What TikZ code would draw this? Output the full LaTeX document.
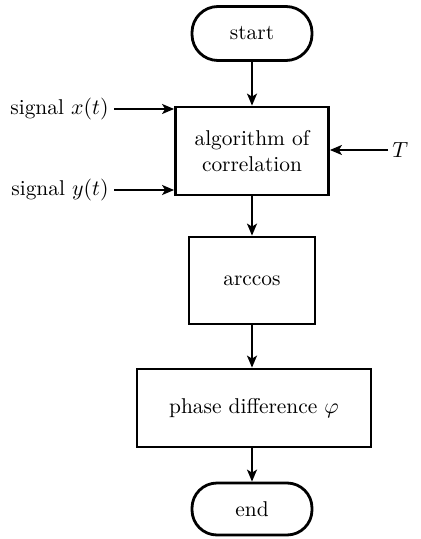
\documentclass[tikz,border=0pt]{standalone}
\usetikzlibrary{arrows.meta}
\tikzset{
	block/.style={draw, line width=1.4pt, align=center, font=\fontsize{10.7}{13}\selectfont},
	term/.style={draw, rounded corners=13pt, line width=1.4pt, minimum width=60pt, minimum height=27pt, font=\fontsize{10.7}{13}\selectfont},
	flow/.style={-{Stealth[length=6pt,width=5pt,inset=1.5pt]}, line width=0.9pt},
	lbl/.style={inner sep=0pt, font=\fontsize{10.7}{13}\selectfont}
}
\begin{document}
\begin{tikzpicture}[x=0.5pt,y=-0.5pt]
	\useasboundingbox (0,0) rectangle (421,539);

	% flow blocks
	\node[term] (start) at (252,33.5) {start};
	\node[block, minimum width=76.5pt, minimum height=44pt] (corr) at (252,151) {algorithm of\\correlation};
	\node[block, minimum width=63pt, minimum height=43.5pt] (acos) at (252,280.5) {arccos};
	\node[block, minimum width=117pt, minimum height=39pt] (phase) at (254,408) {phase difference $\varphi$};
	\node[term, rounded corners=12.5pt, minimum height=26pt] (end) at (252,509) {end};

	% inputs
	\node[lbl, anchor=east] (sx) at (109,109) {signal $x(t)$};
	\node[lbl, anchor=east] (sy) at (109,190) {signal $y(t)$};
	\node[lbl, anchor=west] (T) at (392,150) {$T$};

	\draw[flow] (start) -- (corr);
	\draw[flow] (corr) -- (acos);
	\draw[flow] (acos) -- (acos |- phase.north);
	\draw[flow] (acos |- phase.south) -- (end);

	\draw[flow] ([xshift=2.5pt]sx.east) -- (sx -| corr.west);
	\draw[flow] ([xshift=2.5pt]sy.east) -- (sy -| corr.west);
	\draw[flow] ([xshift=-2pt]T.west) -- (T -| corr.east);
\end{tikzpicture}
\end{document}
